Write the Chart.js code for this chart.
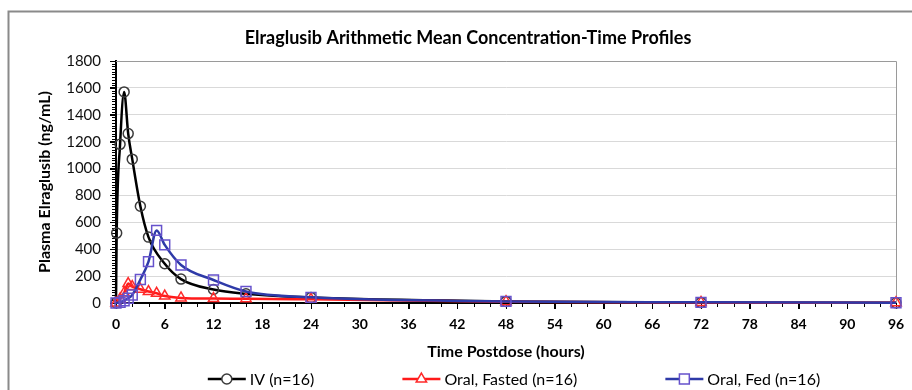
<!DOCTYPE html>
<html><head><meta charset="utf-8">
<script src="https://cdn.jsdelivr.net/npm/chart.js@4.4.1/dist/chart.umd.min.js"></script>
<style>html,body{margin:0;padding:0;background:#fff;overflow:hidden}</style>
</head><body>
<canvas id="c" width="912" height="390"></canvas>
<script>
const chartTitle = 'Elraglusib Arithmetic Mean Concentration-Time Profiles';
const xAxisTitle = 'Time Postdose (hours)';
const yAxisTitle = 'Plasma Elraglusib (ng/mL)';
const seriesNames = ['IV (n=16)', 'Oral, Fasted (n=16)', 'Oral, Fed (n=16)'];

const ivHours = [0, 0.083, 0.5, 1, 1.5, 2, 3, 4, 6, 8, 12, 16, 24, 48, 72, 96];
const ivConc  = [0, 520, 1180, 1570, 1260, 1070, 720, 490, 292, 178, 100, 68, 40, 12, 3, 1];

const oralHours  = [0, 0.5, 1, 1.5, 2, 3, 4, 5, 6, 8, 12, 16, 24, 48, 72, 96];
const fastedConc = [0, 30, 75, 145, 122, 102, 85, 72, 52, 38, 33, 32, 27, 10, 4, 2];
const fedConc    = [0, 5, 17, 35, 60, 175, 308, 540, 432, 283, 171, 86, 42, 12, 5, 2];

const xTicks = [0, 6, 12, 18, 24, 30, 36, 42, 48, 54, 60, 66, 72, 78, 84, 90, 96];
const yTicks = [0, 200, 400, 600, 800, 1000, 1200, 1400, 1600, 1800];
const xMinorStep = 2;
const yMinorStep = 20;

const FONT = 'Lato, "Open Sans", "DejaVu Sans", sans-serif';
const styles = [
  {line: '#000000', point: '#3a3a3a', shape: 'circle', r: 5},
  {line: '#ff1a1a', point: '#ff2a2a', shape: 'triangle', r: 6},
  {line: '#2e3aa8', point: '#6652cc', shape: 'rect', r: 7}
];

function pairs(xs, ys){ return xs.map((x,i)=>({x:x, y:ys[i]})); }

const decor = {
  id: 'decor',
  beforeDraw(chart){
    const ctx = chart.ctx;
    ctx.save();
    ctx.fillStyle = '#fff';
    ctx.fillRect(0,0,chart.width,chart.height);
    ctx.strokeStyle = '#8a8a8a';
    ctx.lineWidth = 2;
    ctx.beginPath();
    ctx.moveTo(8.5, chart.height); ctx.lineTo(8.5, 11.5); ctx.lineTo(chart.width, 11.5);
    ctx.stroke();
    ctx.restore();
  },
  beforeDatasetsDraw(chart){
    const ctx = chart.ctx, a = chart.chartArea;
    ctx.save();
    ctx.strokeStyle = '#9a9a9a';
    ctx.lineWidth = 1;
    ctx.beginPath();
    ctx.moveTo(a.left, a.top + 0.5); ctx.lineTo(a.right + 0.5, a.top + 0.5); ctx.lineTo(a.right + 0.5, a.bottom);
    ctx.stroke();
    const xs = chart.scales.x, ys = chart.scales.y;
    ctx.strokeStyle = '#000';
    ctx.beginPath();
    for (let v = 0; v <= 96; v += xMinorStep) {
      const px = Math.round(xs.getPixelForValue(v)) + 0.5;
      const major = v % 6 === 0;
      ctx.moveTo(px, a.bottom); ctx.lineTo(px, a.bottom + (major ? 6 : 4));
    }
    for (let v = 0; v <= 1800; v += yMinorStep) {
      const py = Math.round(ys.getPixelForValue(v)) + 0.5;
      const major = v % 200 === 0;
      ctx.moveTo(a.left, py); ctx.lineTo(a.left - (major ? 6 : 4), py);
    }
    ctx.stroke();
    ctx.restore();
  },
  afterDraw(chart){
    const ctx = chart.ctx;
    ctx.save();
    ctx.fillStyle = '#000';
    ctx.font = 'bold 18px ' + FONT;
    ctx.textAlign = 'center';
    ctx.textBaseline = 'middle';
    ctx.fillText(chartTitle, 468, 38);
    ctx.font = '16px ' + FONT;
    const lineLen = 38, gap = 88, tgap = 4;
    const widths = seriesNames.map(t => lineLen + tgap + ctx.measureText(t).width);
    const total = widths.reduce((s,w)=>s+w,0) + gap*(widths.length-1);
    let x = 514 - total/2;
    const y = 379;
    seriesNames.forEach((name, i) => {
      const st = styles[i];
      ctx.strokeStyle = st.line; ctx.lineWidth = 2.5;
      ctx.beginPath(); ctx.moveTo(x, y); ctx.lineTo(x + lineLen, y); ctx.stroke();
      ctx.strokeStyle = st.point; ctx.lineWidth = 1.5; ctx.fillStyle = '#fff';
      Chart.helpers.drawPoint(ctx, {pointStyle: st.shape, radius: st.r, borderWidth: 1.5, rotation: 0}, x + lineLen/2, y);
      ctx.fillStyle = '#000';
      ctx.textAlign = 'left';
      ctx.fillText(name, x + lineLen + tgap, y + 0.5);
      x += widths[i] + gap;
    });
    ctx.restore();
  }
};

const mk = (i, data, order) => ({
  label: seriesNames[i],
  data: data,
  order: order,
  borderColor: styles[i].line,
  borderWidth: 2.5,
  cubicInterpolationMode: 'monotone',
  pointStyle: styles[i].shape,
  pointRadius: styles[i].r,
  pointBorderColor: styles[i].point,
  pointBackgroundColor: 'rgba(0,0,0,0)',
  pointBorderWidth: 1.5,
  fill: false,
  clip: false
});

new Chart(document.getElementById('c'), {
  type: 'line',
  data: {
    datasets: [
      mk(0, pairs(ivHours, ivConc), 2),
      mk(1, pairs(oralHours, fastedConc), 1),
      mk(2, pairs(oralHours, fedConc), 0)
    ]
  },
  options: {
    responsive: false,
    animation: false,
    devicePixelRatio: 1,
    layout: {padding: {left: 31, right: 16, top: 61, bottom: 26}},
    plugins: {legend: {display: false}, title: {display: false}, tooltip: {enabled: false}},
    scales: {
      x: {
        type: 'linear', min: 0, max: 96,
        afterBuildTicks: s => { s.ticks = xTicks.map(v => ({value: v})); },
        afterFit: s => { s.height = 61; },
        ticks: {font: {family: FONT, size: 14, weight: 'bold'}, color: '#000', padding: 7, maxRotation: 0, autoSkip: false, callback: v => String(v)},
        grid: {drawOnChartArea: false, drawTicks: true, tickLength: 6, tickColor: '#000', tickWidth: 1},
        border: {color: '#000', width: 2},
        title: {display: true, text: xAxisTitle, color: '#000', font: {family: FONT, size: 16, weight: 'bold'}, padding: {top: 4, bottom: 3}}
      },
      y: {
        type: 'linear', min: 0, max: 1800,
        afterBuildTicks: s => { s.ticks = yTicks.map(v => ({value: v})); },
        afterFit: s => { s.width = 85; },
        ticks: {font: {family: FONT, size: 15}, color: '#111', padding: 9, callback: v => String(v)},
        grid: {color: '#d9d9d9', lineWidth: 1, drawTicks: true, tickLength: 6, tickColor: '#000'},
        border: {color: '#000', width: 2},
        title: {display: true, text: yAxisTitle, color: '#000', font: {family: FONT, size: 16, weight: 'bold'}, padding: {top: 4, bottom: 4}}
      }
    }
  },
  plugins: [decor]
});
</script>
</body></html>
